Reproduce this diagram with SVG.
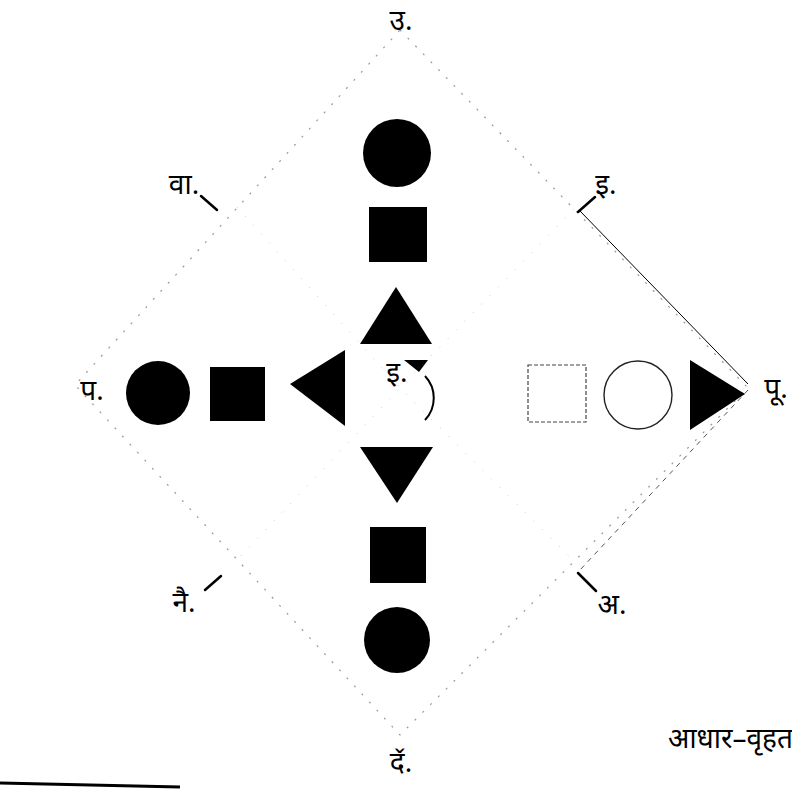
<svg xmlns="http://www.w3.org/2000/svg" width="792" height="790" viewBox="0 0 792 790">
<style>
.lbl{font-family:"Noto Sans","Liberation Sans",sans-serif;font-size:28px;fill:#000}
.fill{fill:#000}
.frame{fill:none;stroke:#999;stroke-width:1.2;stroke-dasharray:2 9}
.inner{fill:none;stroke:#c8c8c8;stroke-width:1;stroke-dasharray:1 11}
.tick{stroke:#000;stroke-width:2.5;stroke-linecap:round}
.thin{stroke:#000;stroke-width:1;fill:none}
</style>
<rect width="792" height="790" fill="#fff"/>
<g id="frame">
<polygon class="frame" points="400,30 748,388 400,735 75,385"/>
<polyline class="inner" points="237,207 400,388 574,561"/>
<polyline class="inner" points="574,209 400,388 237,560"/>
</g>
<g id="connectors">
<line class="tick" x1="201" y1="196" x2="217" y2="210"/>
<line class="tick" x1="578" y1="212" x2="595" y2="197"/>
<line class="tick" x1="205" y1="590" x2="221" y2="576"/>
<line class="tick" x1="578" y1="573" x2="596" y2="591"/>
<line class="thin" x1="580" y1="211" x2="748" y2="384"/>
<line x1="748" y1="390" x2="580" y2="570" stroke="#555" stroke-width="1" stroke-dasharray="5 5"/>
</g>
<g id="north">
<circle class="fill" cx="397" cy="153" r="34"/>
<rect class="fill" x="369" y="207" width="58" height="55"/>
<polygon class="fill" points="396,287 432,344 360,344"/>
</g>
<g id="west">
<circle class="fill" cx="158" cy="393" r="32"/>
<rect class="fill" x="210" y="367" width="55" height="54"/>
<polygon class="fill" points="290,384 345,350 345,426"/>
</g>
<g id="south">
<polygon class="fill" points="360,447 433,447 397,503"/>
<rect class="fill" x="370" y="527" width="56" height="56"/>
<circle class="fill" cx="397" cy="640" r="33"/>
</g>
<g id="east">
<rect x="528" y="365" width="58" height="57" fill="none" stroke="#444" stroke-width="1.2" stroke-dasharray="4 2"/>
<circle cx="638" cy="395" r="34" fill="none" stroke="#222" stroke-width="1.4"/>
<polygon class="fill" points="690,360 745,394 690,430"/>
</g>
<g id="centre">
<path d="M 425 376 A 32 32 0 0 1 425 420" fill="none" stroke="#000" stroke-width="2"/>
<polygon class="fill" points="404,360 428,360 419,372"/>
<text class="lbl" x="397" y="382" text-anchor="middle" font-size="22">इ.</text>
</g>
<g id="labels">
<text class="lbl" x="401" y="30" text-anchor="middle">उ.</text>
<text class="lbl" x="184" y="194" text-anchor="middle">वा.</text>
<text class="lbl" x="606" y="194" text-anchor="middle">इ.</text>
<text class="lbl" x="92" y="400" text-anchor="middle">प.</text>
<text class="lbl" x="776" y="398" text-anchor="middle">पू.</text>
<text class="lbl" x="184" y="612" text-anchor="middle">नै.</text>
<text class="lbl" x="612" y="614" text-anchor="middle">अ.</text>
<text class="lbl" x="401" y="772" text-anchor="middle">द̌.</text>
<text class="lbl" x="668" y="748" font-size="20">आधार–वृहत</text>
</g>
<line x1="0" y1="783" x2="180" y2="787" stroke="#000" stroke-width="3"/>
</svg>
